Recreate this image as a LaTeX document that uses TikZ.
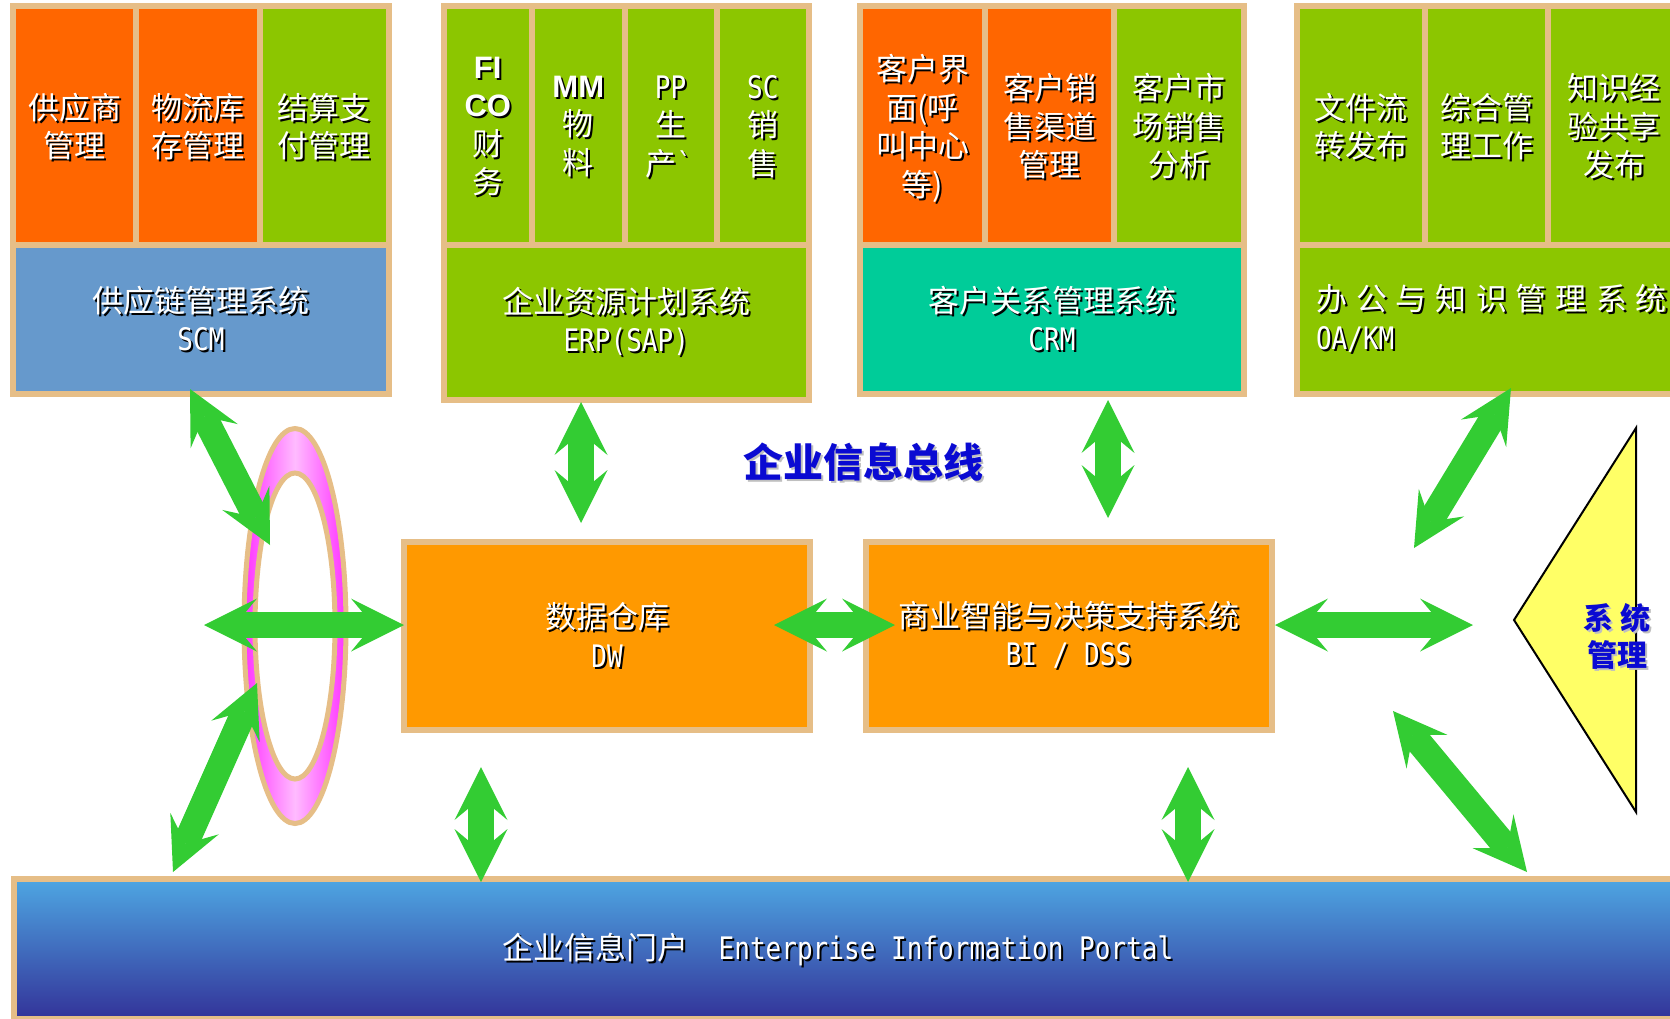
\documentclass[tikz,border=0pt]{standalone}
\usepackage{fontspec}
\setmainfont{Noto Sans CJK SC}
\newfontfamily\monof{DejaVu Sans Mono}[FakeStretch=0.84]
\newfontfamily\arialf{Liberation Sans}
\usetikzlibrary{arrows.meta}

\definecolor{tanline}{RGB}{230,190,135}
\definecolor{orgcell}{RGB}{255,102,0}
\definecolor{grncell}{RGB}{140,198,0}
\definecolor{scmblue}{RGB}{102,153,204}
\definecolor{crmgreen}{RGB}{0,204,153}
\definecolor{dworange}{RGB}{255,153,0}
\definecolor{busgreen}{RGB}{51,204,51}
\definecolor{portaltop}{RGB}{78,166,226}
\definecolor{portalbot}{RGB}{51,51,153}
\definecolor{ringpink}{RGB}{255,187,255}
\definecolor{ringmag}{RGB}{255,51,255}
\definecolor{titleblue}{RGB}{10,10,210}
\definecolor{triyellow}{RGB}{255,255,102}

% white text with a dark drop shadow
\newcommand{\shd}[2][black]{\rlap{\kern2pt\raisebox{-2pt}{\color{#1}#2}}{#2}}
\newcommand{\wgap}{\hspace{9pt}}

\begin{document}
\begin{tikzpicture}[x=1pt, y=-1pt,
    cell/.style={rectangle, draw=tanline, line width=6pt, text=white, align=center, inner sep=0pt, minimum height=239.5pt, font=\fontsize{31}{38.5}\selectfont, text depth=-3pt},
    sysbox/.style={rectangle, draw=tanline, line width=6pt, text=white, align=center, inner sep=0pt, font=\fontsize{31}{38.5}\selectfont},
    bustip/.tip={Stealth[length=53pt, width=53pt, inset=22pt, line width=0pt]},
    bus/.style={bustip-bustip, line width=26pt, draw=busgreen}
]
\useasboundingbox (0,0) rectangle (1670,1018);

% SCM
\node[cell, fill=orgcell, minimum width=123pt] (scmA) at (74.5,125.25) {\shd{供应商}\\\shd{管理}};
\node[cell, fill=orgcell, minimum width=123.5pt] (scmB) at (197.75,125.25) {\shd{物流库}\\\shd{存管理}};
\node[cell, fill=grncell, minimum width=129.5pt] (scmC) at (324.25,125.25) {\shd{结算支}\\\shd{付管理}};
\node[sysbox, fill=scmblue, minimum width=376pt, minimum height=149pt] (scm) at (201,319.5) {\shd{供应链管理系统}\\\shd{\monof SCM}};

% ERP
\node[cell, fill=grncell, minimum width=88.5pt] (erpA) at (487.75,125.25) {\shd{\arialf\bfseries FI}\\\shd{\arialf\bfseries CO}\\\shd{财}\\\shd{务}};
\node[cell, fill=grncell, minimum width=92.5pt] (erpB) at (578.25,125.25) {\shd{\arialf\bfseries MM}\\\shd{物}\\\shd{料}};
\node[cell, fill=grncell, minimum width=92pt] (erpC) at (670.5,125.25) {\shd{\monof PP}\\\shd{生}\\\shd{产{\monof\textasciigrave}}};
\node[cell, fill=grncell, minimum width=92.5pt] (erpD) at (762.75,125.25) {\shd{\monof SC}\\\shd{销}\\\shd{售}};
\node[sysbox, fill=grncell, minimum width=365.5pt, minimum height=154.5pt] (erp) at (626.25,322.25) {\shd{企业资源计划系统}\\\shd{\monof ERP(SAP)}};

% CRM
\node[cell, fill=orgcell, minimum width=125pt] (crmA) at (922.5,125.25) {\shd{客户界}\\\shd{面(呼}\\\shd{叫中心}\\\shd{等)}};
\node[cell, fill=orgcell, minimum width=129pt] (crmB) at (1049.5,125.25) {\shd{客户销}\\\shd{售渠道}\\\shd{管理}};
\node[cell, fill=grncell, minimum width=130pt] (crmC) at (1179,125.25) {\shd{客户市}\\\shd{场销售}\\\shd{分析}};
\node[sysbox, fill=crmgreen, minimum width=384pt, minimum height=149pt] (crm) at (1052,319.5) {\shd{客户关系管理系统}\\\shd{\monof CRM}};

% OA/KM
\node[cell, fill=grncell, minimum width=128.5pt] (oaA) at (1360.75,125.25) {\shd{文件流}\\\shd{转发布}};
\node[cell, fill=grncell, minimum width=123pt] (oaB) at (1486.5,125.25) {\shd{综合管}\\\shd{理工作}};
\node[cell, fill=grncell, minimum width=132pt] (oaC) at (1614,125.25) {\shd{知识经}\\\shd{验共享}\\\shd{发布}};
\node[sysbox, fill=grncell, minimum width=383.5pt, minimum height=149pt] (oa) at (1488.25,319.5) {};
\node[sysbox, draw=none, align=left, anchor=west] (oatext) at (1313,319.5) {\shd{办\wgap 公\wgap 与\wgap 知\wgap 识\wgap 管\wgap 理\wgap 系\wgap 统}\\\shd{\monof OA/KM}};

% DW, BI
\node[sysbox, fill=dworange, minimum width=406pt, minimum height=188.5pt] (dw) at (607,635.75) {\shd{数据仓库}\\\shd{\monof DW}};
\node[sysbox, fill=dworange, minimum width=406pt, minimum height=188.5pt] (bi) at (1068.5,635.75) {\shd{商业智能与决策支持系统}\\\shd{\monof BI / DSS}};

% portal
\node[sysbox, top color=portaltop, bottom color=portalbot, minimum width=1666.5pt, minimum height=140pt] (portal) at (846.75,949) {};
\node[text=white, font=\fontsize{31}{38}\selectfont] (portaltext) at (838,951) {\shd{企业信息门户\hspace{30pt}{\monof Enterprise Information Portal}}};

% bus title
\node[text=titleblue, font=\fontsize{40}{48}\selectfont\bfseries] (bustitle) at (863,463) {\shd[black!25]{企业信息总线}};

% ring
\fill[left color=ringmag, right color=ringmag, middle color=ringpink] (295,626) ellipse [x radius=51, y radius=197.5];
\draw[tanline, line width=5pt] (295,626) ellipse [x radius=51, y radius=197.5];
\draw[tanline, line width=5pt, fill=white] (295,626) ellipse [x radius=40, y radius=153];

% system management
\draw[line width=2pt, fill=triyellow, line join=miter] (1514,620) -- (1636,428) -- (1636,812) -- cycle;
\node[text=titleblue, font=\fontsize{30}{37}\selectfont\bfseries, align=center] (sysmgmt) at (1617,637) {\shd[black!25]{系 统}\\\shd[black!25]{管理}};

% arrow ends
\coordinate (scmDown) at (190,389);
\coordinate (ringUp) at (270,545);
\coordinate (ringLeft) at (204,625);
\coordinate (dwLeft) at (404,625);
\coordinate (ringLow) at (257,683);
\coordinate (portalUL) at (173,872);
\coordinate (erpDown) at (581,402);
\coordinate (dwUp) at (581,523);
\coordinate (crmDown) at (1108,400);
\coordinate (biUp) at (1108,518);
\coordinate (dwRight) at (774,625);
\coordinate (biLeft) at (895,625);
\coordinate (dwLow) at (481,767);
\coordinate (portalA) at (481,882);
\coordinate (biLow) at (1188,767);
\coordinate (portalB) at (1188,882);
\coordinate (biRight) at (1275,625);
\coordinate (mgmtLeft) at (1473,625);
\coordinate (oaDown) at (1511,388);
\coordinate (mgmtUp) at (1414,548);
\coordinate (mgmtLow) at (1393,711);
\coordinate (portalUR) at (1527,872);

% arrows
\draw[bus] (scmDown) -- (ringUp);
\draw[bus] (ringLeft) -- (dwLeft);
\draw[bus] (ringLow) -- (portalUL);
\draw[bus] (erpDown) -- (dwUp);
\draw[bus] (crmDown) -- (biUp);
\draw[bus] (dwRight) -- (biLeft);
\draw[bus] (dwLow) -- (portalA);
\draw[bus] (biLow) -- (portalB);
\draw[bus] (biRight) -- (mgmtLeft);
\draw[bus] (oaDown) -- (mgmtUp);
\draw[bus] (mgmtLow) -- (portalUR);

\end{tikzpicture}
\end{document}
